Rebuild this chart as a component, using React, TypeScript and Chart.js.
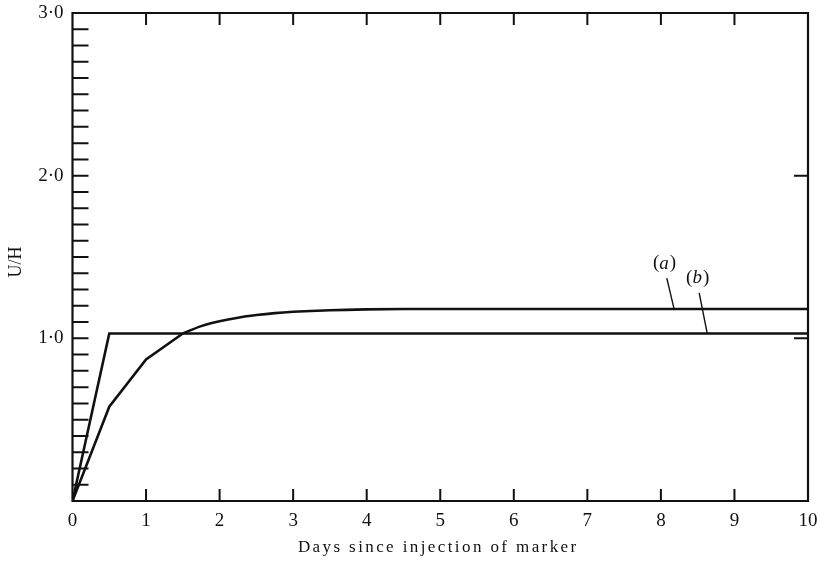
import React, { useEffect, useRef } from "react";
import { Chart, registerables } from "chart.js";

Chart.register(...registerables);

// ---- Data ----
const curveADays = [0, 0.5, 1.0, 1.5, 1.75, 2.0, 2.25, 2.5, 2.75, 3.0, 3.5, 4.0, 4.5, 10];
const curveAValues = [0, 0.58, 0.87, 1.03, 1.075, 1.105, 1.127, 1.143, 1.155, 1.163, 1.173, 1.178, 1.18, 1.18];
const curveAKinkIndex = 3; // straight segments up to here, smooth afterwards

const lineBDays = [0, 0.5, 10];
const lineBValues = [0, 1.03, 1.03];

// Axis ticks
const xMajorTicks = [1, 2, 3, 4, 5, 6, 7, 8, 9];
const yMinorTicks = [
  0.1, 0.2, 0.3, 0.4, 0.5, 0.6, 0.7, 0.8, 0.9, 1.0,
  1.1, 1.2, 1.3, 1.4, 1.5, 1.6, 1.7, 1.8, 1.9, 2.0,
  2.1, 2.2, 2.3, 2.4, 2.5, 2.6, 2.7, 2.8, 2.9,
];
const yRightTicks = [1.0, 2.0];

const xTitle = "Days since injection of marker";
const yTitle = "U/H";

// Curve labels (a), (b) with leader lines
const labelLetters = ["a", "b"];
const labelX = [8.05, 8.5];
const labelY = [1.46, 1.37];
const leaderFromX = [8.08, 8.52];
const leaderFromY = [1.37, 1.28];
const leaderToX = [8.18, 8.63];
const leaderToY = [1.18, 1.03];

const SERIF = "'Liberation Serif', 'DejaVu Serif', serif";

const framePlugin = {
  id: "frameAndTicks",
  afterDraw(chart: any) {
    const { ctx, chartArea, scales } = chart;
    const xs = scales.x;
    const ys = scales.y;
    const { left, right, top, bottom } = chartArea;
    ctx.save();
    ctx.strokeStyle = "#111";
    ctx.lineCap = "butt";

    // frame
    ctx.lineWidth = 2.2;
    ctx.beginPath();
    ctx.rect(left, top, right - left, bottom - top);
    ctx.stroke();

    // ticks (inward)
    ctx.lineWidth = 2;
    ctx.beginPath();
    for (const v of xMajorTicks) {
      const px = xs.getPixelForValue(v);
      ctx.moveTo(px, bottom);
      ctx.lineTo(px, bottom - 12);
      ctx.moveTo(px, top);
      ctx.lineTo(px, top + 12);
    }
    for (const v of yMinorTicks) {
      const py = ys.getPixelForValue(v);
      ctx.moveTo(left, py);
      ctx.lineTo(left + 16, py);
    }
    for (const v of yRightTicks) {
      const py = ys.getPixelForValue(v);
      ctx.moveTo(right, py);
      ctx.lineTo(right - 14, py);
    }
    ctx.stroke();

    ctx.fillStyle = "#111";

    // x-axis title, letter-spaced like the print
    ctx.font = `17px ${SERIF}`;
    (ctx as any).letterSpacing = "2.4px";
    ctx.textAlign = "center";
    ctx.textBaseline = "alphabetic";
    ctx.fillText(xTitle, (left + right) / 2 - 2, bottom + 51);
    (ctx as any).letterSpacing = "0px";

    // y-axis title
    ctx.save();
    ctx.translate(16, (top + bottom) / 2 + 5);
    ctx.rotate(-Math.PI / 2);
    ctx.font = `18px ${SERIF}`;
    ctx.textAlign = "center";
    ctx.textBaseline = "middle";
    ctx.fillText(yTitle, 0, 0);
    ctx.restore();

    // labels (a), (b)
    ctx.textBaseline = "middle";
    ctx.lineWidth = 1.4;
    for (let i = 0; i < labelLetters.length; i++) {
      const cx = xs.getPixelForValue(labelX[i]);
      const cy = ys.getPixelForValue(labelY[i]);
      const upright = `19px ${SERIF}`;
      const italic = `italic 19px ${SERIF}`;
      ctx.font = upright;
      const wp = ctx.measureText("(").width;
      const wq = ctx.measureText(")").width;
      ctx.font = italic;
      const wl = ctx.measureText(labelLetters[i]).width;
      const total = wp + wl + wq + 1;
      let x0 = cx - total / 2;
      ctx.textAlign = "left";
      ctx.font = upright;
      ctx.fillText("(", x0, cy);
      x0 += wp;
      ctx.font = italic;
      ctx.fillText(labelLetters[i], x0, cy);
      x0 += wl + 1;
      ctx.font = upright;
      ctx.fillText(")", x0, cy);

      ctx.beginPath();
      ctx.moveTo(xs.getPixelForValue(leaderFromX[i]), ys.getPixelForValue(leaderFromY[i]));
      ctx.lineTo(xs.getPixelForValue(leaderToX[i]), ys.getPixelForValue(leaderToY[i]));
      ctx.stroke();
    }
    ctx.restore();
  },
};

export default function App() {
  const canvasRef = useRef<HTMLCanvasElement | null>(null);

  useEffect(() => {
    document.body.style.margin = "0";
    const canvas = canvasRef.current;
    if (!canvas) return;
    const pts = curveADays.map((d, i) => ({ x: d, y: curveAValues[i] }));
    const chart = new Chart(canvas, {
      type: "line",
      data: {
        datasets: [
          {
            label: "(a)",
            data: pts.slice(0, curveAKinkIndex + 1),
            borderColor: "#111",
            borderWidth: 2.6,
            pointRadius: 0,
            tension: 0,
            fill: false,
          },
          {
            label: "(a) smooth",
            data: pts.slice(curveAKinkIndex),
            borderColor: "#111",
            borderWidth: 2.6,
            pointRadius: 0,
            cubicInterpolationMode: "monotone",
            fill: false,
          },
          {
            label: "(b)",
            data: lineBDays.map((d, i) => ({ x: d, y: lineBValues[i] })),
            borderColor: "#111",
            borderWidth: 2.6,
            pointRadius: 0,
            tension: 0,
            fill: false,
          },
        ],
      },
      options: {
        animation: false,
        responsive: false,
        devicePixelRatio: 1,
        layout: { autoPadding: false, padding: { top: 13, right: 12, left: 0, bottom: 0 } },
        plugins: {
          legend: { display: false },
          tooltip: { enabled: false },
        },
        scales: {
          x: {
            type: "linear",
            min: 0,
            max: 10,
            grid: { display: false, drawTicks: false },
            border: { display: false },
            ticks: {
              stepSize: 1,
              padding: 9,
              color: "#111",
              font: { family: SERIF, size: 19 },
              maxRotation: 0,
              callback: (v: any) => String(v),
            },
            afterFit: (s: any) => {
              s.height = 62;
              s.paddingLeft = 0;
              s.paddingRight = 0;
            },
          },
          y: {
            type: "linear",
            min: 0,
            max: 3,
            grid: { display: false, drawTicks: false },
            border: { display: false },
            ticks: {
              stepSize: 1,
              padding: 9,
              color: "#111",
              font: { family: SERIF, size: 19 },
              callback: (v: any) => (v === 0 ? "" : Number(v).toFixed(1).replace(".", "·")),
            },
            afterFit: (s: any) => {
              s.width = 72.5;
              s.paddingTop = 0;
              s.paddingBottom = 0;
            },
          },
        },
      },
      plugins: [framePlugin],
    } as any);
    return () => chart.destroy();
  }, []);

  return (
    <div style={{ width: 820, height: 563, background: "#fff" }}>
      <canvas ref={canvasRef} width={820} height={563} />
    </div>
  );
}
